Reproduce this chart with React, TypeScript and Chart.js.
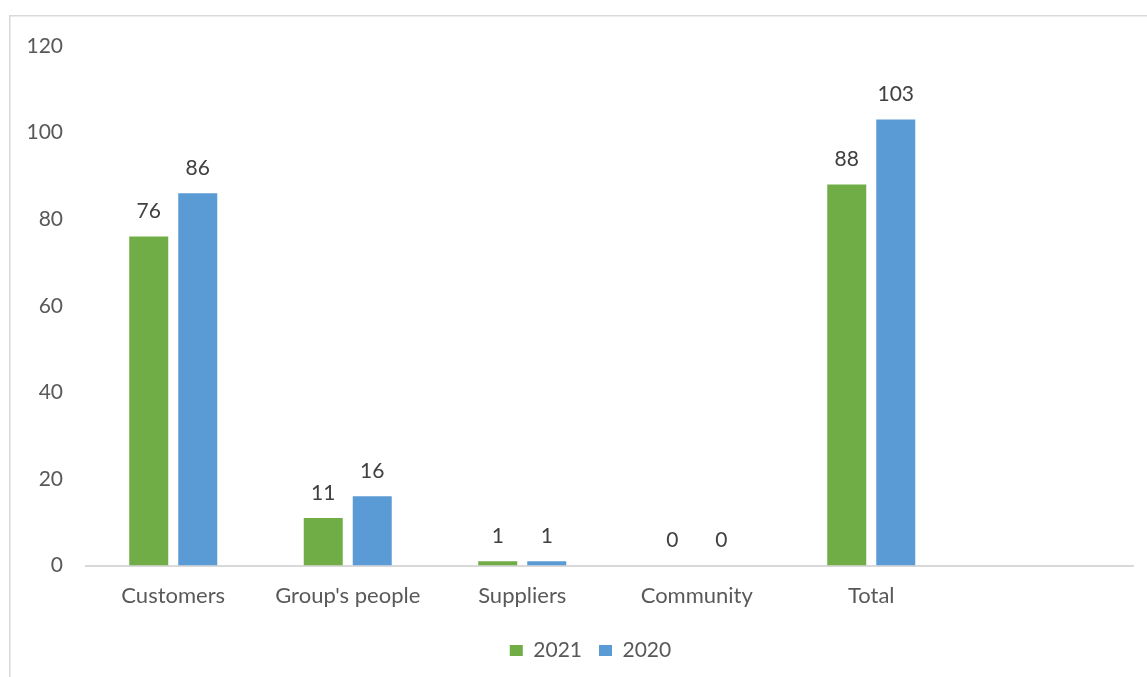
import React, { useEffect, useRef } from "react";
import { Chart, registerables } from "chart.js";

Chart.register(...registerables);

const categories = ["Customers", "Group's people", "Suppliers", "Community", "Total", ""];
const values2021 = [76, 11, 1, 0, 88, null];
const values2020 = [86, 16, 1, 0, 103, null];
const seriesNames = ["2021", "2020"];
const yTicks = [0, 20, 40, 60, 80, 100, 120];

const FONT = "Lato, 'Open Sans', sans-serif";

const framePlugin = {
  id: "frame",
  beforeDraw(chart: any) {
    const ctx = chart.ctx;
    ctx.save();
    ctx.fillStyle = "#ffffff";
    ctx.fillRect(0, 0, chart.width, chart.height);
    ctx.strokeStyle = "#d9d9d9";
    ctx.lineWidth = 1.5;
    ctx.strokeRect(9.75, 15.75, chart.width + 50, chart.height + 50);
    ctx.restore();
  },
};

const legendShiftPlugin = {
  id: "legendShift",
  afterLayout(chart: any) {
    const lg = chart.legend;
    if (lg) {
      lg.left += 24;
      lg.right += 24;
    }
  },
};

const labelPlugin = {
  id: "valueLabels",
  afterDatasetsDraw(chart: any) {
    const ctx = chart.ctx;
    ctx.save();
    ctx.font = `21px ${FONT}`;
    ctx.fillStyle = "#404040";
    ctx.textAlign = "center";
    ctx.textBaseline = "middle";
    chart.data.datasets.forEach((ds: any, i: number) => {
      const meta = chart.getDatasetMeta(i);
      meta.data.forEach((el: any, j: number) => {
        const v = ds.data[j];
        if (v === null || v === undefined) return;
        ctx.fillText(String(v), el.x, el.y - 25);
      });
    });
    ctx.restore();
  },
};

export default function App() {
  const ref = useRef<HTMLCanvasElement | null>(null);
  useEffect(() => {
    if (!ref.current) return;
    const chart = new Chart(ref.current, {
      type: "bar",
      data: {
        labels: categories,
        datasets: [
          { label: seriesNames[0], data: values2021, backgroundColor: "#70ad47" },
          { label: seriesNames[1], data: values2020, backgroundColor: "#5b9bd5" },
        ],
      },
      options: {
        animation: false,
        responsive: false,
        maintainAspectRatio: false,
        layout: { padding: { top: 46, right: 14, left: 0, bottom: 6 } },
        datasets: { bar: { categoryPercentage: 0.5616, barPercentage: 0.796 } },
        scales: {
          x: {
            grid: { display: false, drawTicks: false },
            border: { display: true, color: "#d9d9d9", width: 2 },
            ticks: { color: "#595959", font: { family: FONT, size: 22 }, padding: 17, maxRotation: 0, autoSkip: false },
            afterFit(scale: any) {
              scale.height = scale.height - 3;
            },
          },
          y: {
            min: 0,
            max: 120,
            afterBuildTicks(scale: any) {
              scale.ticks = yTicks.map((v) => ({ value: v }));
            },
            grid: { display: false, drawTicks: false },
            border: { display: false },
            ticks: { color: "#595959", font: { family: FONT, size: 21 }, padding: 23 },
            afterFit(scale: any) {
              scale.width = 86;
            },
          },
        },
        plugins: {
          legend: {
            position: "bottom",
            labels: {
              color: "#595959",
              font: { family: FONT, size: 21 },
              boxWidth: 13,
              boxHeight: 11,
              padding: 17,
            },
          },
          tooltip: { enabled: false },
        },
      },
      plugins: [framePlugin, legendShiftPlugin, labelPlugin],
    });
    return () => chart.destroy();
  }, []);
  return (
    <div style={{ position: "fixed", left: 0, top: 0, width: 1147, height: 677 }}>
      <canvas ref={ref} width={1147} height={677} style={{ display: "block" }} />
    </div>
  );
}
